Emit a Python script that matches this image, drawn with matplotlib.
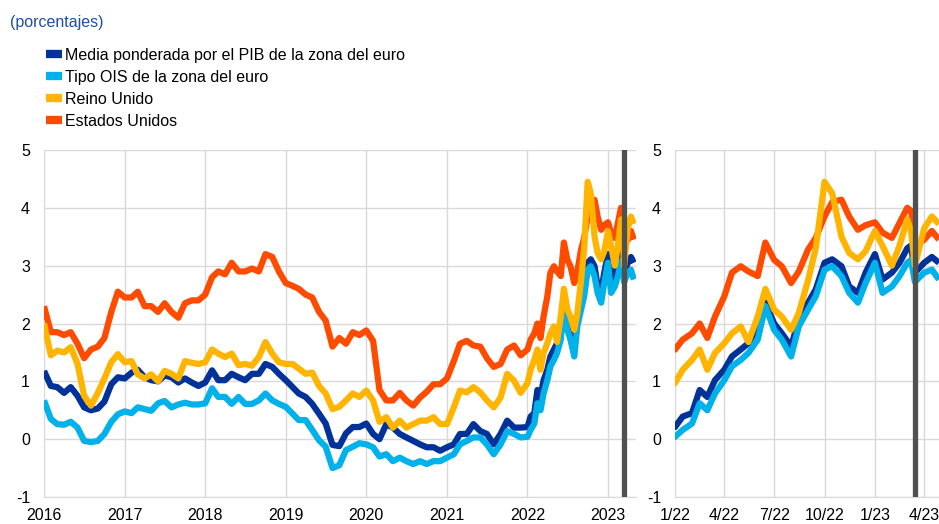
import matplotlib
matplotlib.use('Agg')
import matplotlib.pyplot as plt
from matplotlib.lines import Line2D
import pandas as pd

plt.rcParams['font.family'] = ['Liberation Sans', 'DejaVu Sans']
plt.rcParams['axes.unicode_minus'] = False

# dates: monthly 2016-2021, then semi-monthly 2022-2023
dates_monthly = pd.date_range('2016-01-01', '2021-12-01', freq='MS')
dates_recent = list(pd.date_range('2022-01-01', '2023-03-01', freq='SMS')) + \
    list(pd.to_datetime(['2023-03-08', '2023-03-15', '2023-04-01', '2023-04-15', '2023-04-28']))
dates = list(dates_monthly) + dates_recent

# Estados Unidos
us = [2.30, 1.85, 1.85, 1.80, 1.85, 1.65, 1.40, 1.55, 1.60, 1.75, 2.20, 2.55,
      2.45, 2.45, 2.55, 2.30, 2.30, 2.20, 2.35, 2.20, 2.10, 2.35, 2.40, 2.40,
      2.50, 2.80, 2.90, 2.85, 3.05, 2.90, 2.90, 2.95, 2.90, 3.20, 3.15, 2.90,
      2.70, 2.65, 2.60, 2.50, 2.45, 2.20, 2.05, 1.60, 1.75, 1.65, 1.85, 1.80,
      1.88, 1.70, 0.85, 0.67, 0.67, 0.80, 0.67, 0.58, 0.72, 0.82, 0.95, 0.95,
      1.05, 1.35, 1.65, 1.70, 1.62, 1.60, 1.40, 1.25, 1.30, 1.55, 1.62, 1.45,
      1.55, 1.72, 1.83, 2.00, 1.75, 2.12, 2.47, 2.88, 2.99, 2.90, 2.82, 3.40,
      3.10, 2.99, 2.70, 2.90, 3.28, 3.48, 3.85, 4.10, 4.14, 3.85, 3.62, 3.70,
      3.75, 3.57, 3.48, 3.74, 4.00, 3.95, 3.35, 3.45, 3.60, 3.45]

# Reino Unido
uk = [2.00, 1.45, 1.53, 1.50, 1.59, 1.30, 0.75, 0.58, 0.80, 1.05, 1.33, 1.47,
      1.33, 1.35, 1.12, 1.05, 1.12, 1.00, 1.18, 1.13, 1.05, 1.35, 1.32, 1.30,
      1.33, 1.55, 1.48, 1.42, 1.48, 1.28, 1.30, 1.27, 1.42, 1.68, 1.48, 1.33,
      1.30, 1.30, 1.22, 1.13, 1.15, 0.92, 0.79, 0.52, 0.56, 0.67, 0.79, 0.73,
      0.84, 0.67, 0.30, 0.38, 0.20, 0.32, 0.20, 0.26, 0.32, 0.32, 0.38, 0.26,
      0.26, 0.55, 0.84, 0.81, 0.90, 0.81, 0.67, 0.55, 0.72, 1.13, 1.01, 0.80,
      0.97, 1.20, 1.37, 1.55, 1.20, 1.49, 1.66, 1.83, 1.95, 1.68, 2.12, 2.60,
      2.24, 2.12, 1.89, 2.18, 2.75, 3.30, 4.45, 4.25, 3.50, 3.22, 3.11, 3.25,
      3.60, 3.34, 3.00, 3.35, 3.80, 3.60, 3.00, 3.65, 3.85, 3.72]

# Media ponderada por el PIB de la zona del euro
ea_gdp = [1.18, 0.92, 0.90, 0.80, 0.90, 0.75, 0.55, 0.50, 0.53, 0.65, 0.95, 1.07,
          1.05, 1.15, 1.20, 1.07, 1.02, 1.00, 1.10, 1.07, 0.98, 1.05, 0.98, 0.92,
          0.98, 1.19, 1.02, 1.02, 1.13, 1.07, 1.02, 1.13, 1.13, 1.30, 1.25, 1.13,
          1.02, 0.90, 0.79, 0.73, 0.61, 0.44, 0.27, -0.10, -0.12, 0.10, 0.21, 0.21,
          0.27, 0.09, 0.00, 0.26, 0.20, 0.09, 0.03, -0.03, -0.09, -0.14, -0.14, -0.20,
          -0.14, -0.09, 0.09, 0.09, 0.26, 0.14, 0.09, -0.09, 0.09, 0.32, 0.20, 0.20,
          0.21, 0.39, 0.45, 0.85, 0.73, 1.02, 1.20, 1.43, 1.55, 1.66, 1.95, 2.36,
          2.00, 1.83, 1.60, 2.07, 2.36, 2.59, 3.05, 3.11, 2.99, 2.64, 2.53, 2.88,
          3.20, 2.76, 2.88, 3.05, 3.30, 3.35, 2.88, 3.05, 3.15, 3.05]

# Tipo OIS de la zona del euro
ea_ois = [0.67, 0.35, 0.26, 0.25, 0.30, 0.20, -0.03, -0.05, -0.03, 0.09, 0.30, 0.43,
          0.48, 0.45, 0.55, 0.52, 0.49, 0.62, 0.66, 0.55, 0.60, 0.63, 0.60, 0.60,
          0.62, 0.88, 0.73, 0.73, 0.61, 0.73, 0.61, 0.61, 0.67, 0.79, 0.67, 0.61,
          0.56, 0.44, 0.33, 0.33, 0.16, -0.02, -0.13, -0.50, -0.45, -0.19, -0.13, -0.07,
          -0.09, -0.14, -0.30, -0.26, -0.38, -0.32, -0.38, -0.43, -0.38, -0.43, -0.38, -0.38,
          -0.32, -0.26, -0.09, -0.03, 0.03, 0.03, -0.09, -0.26, -0.09, 0.14, 0.09, 0.03,
          0.04, 0.16, 0.27, 0.62, 0.50, 0.79, 1.02, 1.26, 1.37, 1.49, 1.72, 2.30,
          1.89, 1.72, 1.43, 1.95, 2.24, 2.47, 2.93, 2.99, 2.82, 2.53, 2.36, 2.70,
          3.05, 2.53, 2.64, 2.82, 3.05, 3.10, 2.72, 2.88, 2.93, 2.76]

labels = ['Media ponderada por el PIB de la zona del euro',
          'Tipo OIS de la zona del euro',
          'Reino Unido',
          'Estados Unidos']
colors = ['#003299', '#00b1ea', '#ffb400', '#ff4b00']
series = [ea_gdp, ea_ois, uk, us]

left_ticks = pd.to_datetime(['2016-01-01', '2017-01-01', '2018-01-01', '2019-01-01',
                             '2020-01-01', '2021-01-01', '2022-01-01', '2023-01-01'])
left_tick_labels = ['2016', '2017', '2018', '2019', '2020', '2021', '2022', '2023']
right_ticks = pd.to_datetime(['2022-01-01', '2022-04-01', '2022-07-01', '2022-10-01',
                              '2023-01-01', '2023-04-01'])
right_tick_labels = ['1/22', '4/22', '7/22', '10/22', '1/23', '4/23']
event_date = pd.Timestamp('2023-03-15')

fig = plt.figure(figsize=(9.39, 5.24), dpi=100)
ax1 = fig.add_axes([44 / 939, 27 / 524, 592 / 939, 347 / 524])
ax2 = fig.add_axes([675 / 939, 27 / 524, 264 / 939, 347 / 524])

# draw order: blue, light blue, orange, yellow
order = [0, 1, 3, 2]
for ax in (ax1, ax2):
    for i in order:
        ax.plot(dates, series[i], color=colors[i], lw=4.5, solid_joinstyle='round',
                solid_capstyle='butt', zorder=3)
    ax.axvline(event_date, color='#505050', lw=3.8, zorder=4)
    ax.set_ylim(-1, 5)
    ax.set_yticks([-1, 0, 1, 2, 3, 4, 5])
    ax.grid(color='#d9d9d9', lw=1, zorder=0)
    ax.set_axisbelow(True)
    ax.spines['top'].set_visible(False)
    ax.spines['right'].set_visible(False)
    ax.spines['left'].set_color('#d9d9d9')
    ax.spines['bottom'].set_color('#d9d9d9')
    ax.tick_params(length=0, labelsize=11.5, colors='black')
    ax.tick_params(axis='y', pad=10)
    ax.tick_params(axis='x', pad=8)

ax1.set_xlim(pd.Timestamp('2016-01-01'), pd.Timestamp('2023-05-08'))
ax1.set_xticks(left_ticks)
ax1.set_xticklabels(left_tick_labels)

ax2.set_xlim(pd.Timestamp('2022-01-01'), pd.Timestamp('2023-04-28'))
ax2.set_xticks(right_ticks)
ax2.set_xticklabels(right_tick_labels)

fig.text(10 / 939, 1 - 22 / 524, '(porcentajes)', color='#1f4ea3', fontsize=11.5,
         va='center', ha='left')

handles = [Line2D([0], [0], color=c, lw=6, solid_capstyle='butt') for c in colors]
fig.legend(handles, labels, loc='upper left', bbox_to_anchor=(46 / 939, 1 - 48 / 524),
           frameon=False, fontsize=11.5, handlelength=1.0, handletextpad=0.2,
           labelspacing=0.43, borderpad=0, borderaxespad=0)

fig.savefig('out.png', dpi=100)
